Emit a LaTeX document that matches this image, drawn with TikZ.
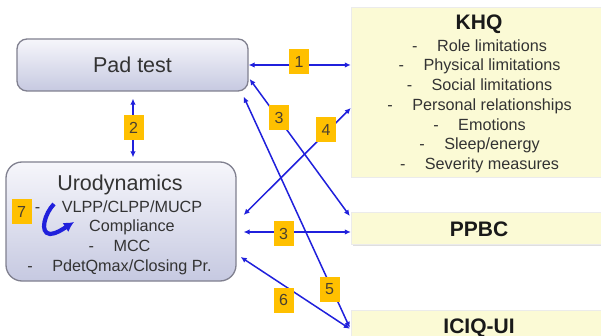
\documentclass[tikz,border=0pt]{standalone}
\usepackage{fontspec}
\setmainfont{Liberation Sans}
\usetikzlibrary{arrows.meta,calc,shadows}
\definecolor{arrowblue}{HTML}{2020DC}
\definecolor{tagfill}{HTML}{FFC000}
\definecolor{tagtext}{HTML}{4A4030}
\definecolor{khqfill}{HTML}{FBFAD5}
\definecolor{boxtop}{HTML}{F6F6FB}
\definecolor{boxbot}{HTML}{C6C9E1}
\definecolor{boxedge}{HTML}{80808F}
\definecolor{txt}{HTML}{333333}
\newcommand\listline[4]{%
  \node[itemtext] (#1) at (#2,#3) {#4};
  \node[itemtext] (#1-dash) at ($(#1.west)+(-22,0)$) {-};}
\begin{document}
\begin{tikzpicture}[x=1pt,y=-1pt,
  lavbox/.style={draw=boxedge, line width=1.3pt, top color=boxtop, bottom color=boxbot, inner sep=0},
  yelbox/.style={fill=khqfill, draw=black!8, inner sep=0,
    drop shadow={shadow xshift=1.5pt, shadow yshift=-1.5pt, opacity=0.25}},
  itemtext/.style={font=\fontsize{16.2}{19}\selectfont, text=txt, inner sep=0, text height=11.6pt, text depth=0pt},
  bigtext/.style={font=\fontsize{21.5}{24}\selectfont, text=txt, inner sep=0, text height=15.4pt, text depth=0pt},
  boldtitle/.style={font=\fontsize{21}{24}\selectfont\bfseries, text=black!90, inner sep=0, text height=15pt, text depth=0pt},
  tag/.style={fill=tagfill, minimum width=20pt, minimum height=25pt, inner sep=0, text=tagtext, font=\fontsize{16}{16}\selectfont},
  conn/.style={draw=arrowblue, line width=1.5pt, arrows={Latex[length=6pt,width=5.5pt]-Latex[length=6pt,width=5.5pt]}}]
\useasboundingbox (0,0) rectangle (601,336);
\clip (0,0) rectangle (601,336);
\fill[white] (0,0) rectangle (601,336);

% boxes
\node[lavbox, rounded corners=10pt, minimum width=231pt, minimum height=52pt] (pad) at (132.5,65) {};
\node[bigtext] (padt) at (pad.center) {Pad test};
\node[lavbox, rounded corners=16pt, minimum width=230pt, minimum height=119pt] (uro) at (121,221.5) {};
\node[yelbox, minimum width=264pt, minimum height=170pt] (khq) at (483,92) {};
\node[yelbox, minimum width=264pt, minimum height=32pt] (ppbc) at (483,228) {};
\node[yelbox, minimum width=264pt, minimum height=40pt] (iciq) at (483,330) {};

% texts
\node[boldtitle] (khqt) at (479,22.5) {KHQ};
\listline{k1}{492}{45.5}{Role limitations}
\listline{k2}{492}{65.2}{Physical limitations}
\listline{k3}{492}{85}{Social limitations}
\listline{k4}{492}{104.7}{Personal relationships}
\listline{k5}{492}{124.5}{Emotions}
\listline{k6}{492}{144.2}{Sleep/energy}
\listline{k7}{492}{164}{Severity measures}
\node[boldtitle] (ppbct) at (479,229) {PPBC};
\node[boldtitle] (iciqt) at (479,325.5) {ICIQ-UI};

\node[bigtext] (urot) at (120,182.5) {Urodynamics};
\node[itemtext] (u1) at (132,207) {VLPP/CLPP/MUCP};
\node[itemtext] (u1-dash) at ($(u1.west)+(-24,0)$) {-};
\node[itemtext] (u2) at (132,226) {Compliance};
\listline{u3}{132}{245.5}{MCC}
\listline{u4}{132}{265.3}{PdetQmax/Closing Pr.}

% connectors
\draw[conn] (pad.east) -- (pad.east -| khq.west);
\draw[conn] ($(pad.south)+(0.5,7)$) -- ($(pad.south |- uro.north)+(0.5,-4)$);
\draw[conn] ($(pad.east)+(1,14)$) -- ($(ppbc.west)+(-1,-12)$);
\draw[conn] ($(pad.south east)+(-5,5)$) -- ($(iciq.north west)+(-1,18)$);
\draw[conn] ($(uro.east)+(7,-6.5)$) -- ($(khq.west)+(0,16)$);
\draw[conn] ($(uro.east)+(7,10.5)$) -- ($(uro.east -| ppbc.west)+(0,10.5)$);
\draw[conn] ($(uro.east)+(4,35.5)$) -- ($(iciq.north west)+(-1,19)$);

% self arrow 7
\draw[arrowblue, line width=4.2pt, -{Latex[length=10pt,width=11pt]}]
  (54,204) .. controls (45,213) and (39,233) .. (50,234) .. controls (56,234) and (63,229) .. (74,222);

% tags
\node[tag] (t1) at (299,62) {1};
\node[tag] (t2) at (133.5,128) {2};
\node[tag] (t3a) at (279,118) {3};
\node[tag] (t4) at (326,129.5) {4};
\node[tag] (t3b) at (283.5,233.5) {3};
\node[tag] (t5) at (329.5,289) {5};
\node[tag] (t6) at (283.5,300) {6};
\node[tag] (t7) at (21.5,211.5) {7};
\end{tikzpicture}
\end{document}
